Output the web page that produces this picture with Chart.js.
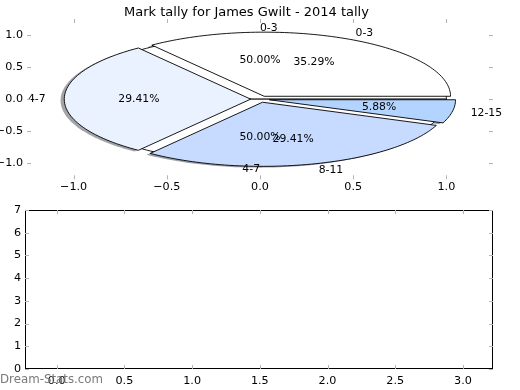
<!DOCTYPE html>
<html>
<head>
<meta charset="utf-8">
<script src="https://cdn.jsdelivr.net/npm/chart.js@4.4.1/dist/chart.umd.min.js"></script>
<style>
  html, body { margin: 0; padding: 0; background: #fff; }
  #wrap { position: relative; width: 520px; height: 390px; overflow: hidden; }
  #pieChart { position: absolute; left: 0; top: 0; }
  #emptyChart { position: absolute; left: 0; top: 195px; }
  #mark { position: absolute; left: 0; top: 372px; font: 11.8px "DejaVu Sans"; color: #7a7a7a; }
</style>
</head>
<body>
<div id="wrap">
  <canvas id="pieChart" width="520" height="200"></canvas>
  <canvas id="emptyChart" width="520" height="195"></canvas>
  <div id="mark">Dream-Stats.com</div>
</div>
<script>
// the data
const chartTitle = 'Mark tally for James Gwilt - 2014 tally';
const sliceLabels = ['0-3', '4-7', '8-11', '12-15'];
const sliceCounts = [6, 5, 5, 1];
const sliceColors = ['#ffffff', '#eaf2ff', '#c6dbff', '#b3d4ff'];
const sliceExplode = [0.05, 0.05, 0.05, 0.05];
// second (hidden) pie, only its texts show
const halfLabels = ['0-3', '4-7'];
const halfCounts = [1, 1];

// tick labels
const pieXTicks = [-1, -0.5, 0, 0.5, 1];
const pieYTicks = [-1, -0.5, 0, 0.5, 1];
const lowXTicks = [0, 0.5, 1, 1.5, 2, 2.5, 3];
const lowYTicks = [0, 1, 2, 3, 4, 5, 6, 7];

const FONT = 'DejaVu Sans';

function fmt1(v) {
  return (v < 0 ? '\u2212' : '') + Math.abs(v).toFixed(1);
}

// start angle, end angle, mid angle and explode offset of every wedge
function layoutPie(counts, explode) {
  const total = counts.reduce((a, b) => a + b, 0);
  let start = 0;
  return counts.map((c, i) => {
    const end = start + 360 * c / total;
    const mid = (start + end) / 2 * Math.PI / 180;
    const e = explode ? explode[i] : 0;
    const w = { start, end, mid, ox: e * Math.cos(mid), oy: e * Math.sin(mid), pct: 100 * c / total };
    start = end;
    return w;
  });
}

// outline of a wedge in data units (radius 1), turned into pixels by the scales
function wedgePath(ctx, sx, sy, w, dx, dy) {
  const n = Math.max(2, Math.ceil((w.end - w.start) / 1.5));
  ctx.beginPath();
  ctx.moveTo(sx.getPixelForValue(w.ox + dx), sy.getPixelForValue(w.oy + dy));
  for (let i = 0; i <= n; i++) {
    const a = (w.start + (w.end - w.start) * i / n) * Math.PI / 180;
    ctx.lineTo(sx.getPixelForValue(w.ox + dx + Math.cos(a)), sy.getPixelForValue(w.oy + dy + Math.sin(a)));
  }
  ctx.closePath();
}

function shadowColor(hex) {
  const r = parseInt(hex.slice(1, 3), 16), g = parseInt(hex.slice(3, 5), 16), b = parseInt(hex.slice(5, 7), 16);
  return 'rgba(' + Math.round(r * 0.3) + ',' + Math.round(g * 0.3) + ',' + Math.round(b * 0.3) + ',0.5)';
}

const piePlugin = {
  id: 'piePlugin',
  afterDraw(chart) {
    const ctx = chart.ctx, sx = chart.scales.x, sy = chart.scales.y;
    const main = layoutPie(sliceCounts, sliceExplode);
    const half = layoutPie(halfCounts, null);
    ctx.save();
    ctx.lineJoin = 'round';
    // shadows
    main.forEach((w, i) => {
      wedgePath(ctx, sx, sy, w, -0.02, -0.02);
      ctx.fillStyle = shadowColor(sliceColors[i]);
      ctx.fill();
    });
    // hidden pie underneath
    half.forEach(w => {
      wedgePath(ctx, sx, sy, w, 0, 0);
      ctx.fillStyle = '#ffffff';
      ctx.fill();
      ctx.lineWidth = 0.9;
      ctx.strokeStyle = '#000';
      ctx.stroke();
    });
    // wedges
    main.forEach((w, i) => {
      wedgePath(ctx, sx, sy, w, 0, 0);
      ctx.fillStyle = sliceColors[i];
      ctx.fill();
      ctx.lineWidth = 0.9;
      ctx.strokeStyle = '#000';
      ctx.stroke();
    });
    // texts
    ctx.fillStyle = '#000';
    ctx.font = '10.8px "' + FONT + '"';
    ctx.textBaseline = 'middle';
    const texts = (ws, labels) => ws.forEach((w, i) => {
      const lx = w.ox + 1.1 * Math.cos(w.mid), ly = w.oy + 1.1 * Math.sin(w.mid);
      ctx.textAlign = lx > 0 ? 'left' : 'right';
      ctx.fillText(labels[i], sx.getPixelForValue(lx), sy.getPixelForValue(ly));
      ctx.textAlign = 'center';
      ctx.fillText(w.pct.toFixed(2) + '%', sx.getPixelForValue(w.ox + 0.6 * Math.cos(w.mid)), sy.getPixelForValue(w.oy + 0.6 * Math.sin(w.mid)));
    });
    texts(half, halfLabels);
    texts(main, sliceLabels);
    ctx.restore();
  }
};

// matplotlib style ticks pointing inward, on all four sides
const inTicksPlugin = {
  id: 'inTicks',
  afterDraw(chart, args, opts) {
    const ctx = chart.ctx, a = chart.chartArea, sx = chart.scales.x, sy = chart.scales.y;
    ctx.save();
    if (opts.frame) {
      ctx.strokeStyle = '#000';
      ctx.lineWidth = 1;
      ctx.strokeRect(a.left + 0.5, a.top + 0.5, a.right - a.left - 1, a.bottom - a.top - 1);
    }
    ctx.strokeStyle = '#b4b4b4';
    ctx.lineWidth = 1;
    ctx.beginPath();
    sx.ticks.forEach(t => {
      const px = Math.round(sx.getPixelForValue(t.value)) + 0.5;
      ctx.moveTo(px, a.bottom); ctx.lineTo(px, a.bottom - 4);
      ctx.moveTo(px, a.top); ctx.lineTo(px, a.top + 4);
    });
    sy.ticks.forEach(t => {
      const py = Math.round(sy.getPixelForValue(t.value)) + 0.5;
      ctx.moveTo(a.left, py); ctx.lineTo(a.left + 4, py);
      ctx.moveTo(a.right, py); ctx.lineTo(a.right - 4, py);
    });
    ctx.stroke();
    ctx.restore();
  }
};

function axis(min, max, values, fmt, size, pad) {
  return {
    type: 'linear', min: min, max: max,
    afterBuildTicks: s => { s.ticks = values.map(v => ({ value: v })); },
    afterFit: s => { if (s.isHorizontal()) s.height = size; else s.width = size; },
    grid: { display: false, drawTicks: false },
    border: { display: false },
    ticks: { padding: pad, color: '#000', autoSkip: false, maxRotation: 0,
      font: { family: FONT, size: 11.2 }, callback: v => fmt(v) }
  };
}

new Chart(document.getElementById('pieChart'), {
  type: 'scatter',
  data: { datasets: [] },
  options: {
    responsive: false, animation: false, events: [],
    layout: { padding: { left: 0, right: 27, top: 0, bottom: 0 } },
    plugins: {
      legend: { display: false }, tooltip: { enabled: false },
      title: { display: true, text: chartTitle, color: '#000',
        font: { family: FONT, size: 13, weight: 'normal', lineHeight: 1 }, padding: { top: 5.9, bottom: 0.1 } },
      inTicks: { frame: false }
    },
    scales: {
      x: axis(-1.25, 1.25, pieXTicks, fmt1, 20.7, 1),
      y: axis(-1.25, 1.25, pieYTicks, fmt1, 27, 4)
    }
  },
  plugins: [piePlugin, inTicksPlugin]
});

new Chart(document.getElementById('emptyChart'), {
  type: 'scatter',
  data: { datasets: [] },
  options: {
    responsive: false, animation: false, events: [],
    layout: { padding: { left: 0, right: 27, top: 15, bottom: 0 } },
    plugins: { legend: { display: false }, tooltip: { enabled: false }, inTicks: { frame: true } },
    scales: {
      x: axis(-0.234, 3.222, lowXTicks, fmt1, 21, 5),
      y: axis(0, 7, lowYTicks, v => String(v), 25, 4)
    }
  },
  plugins: [inTicksPlugin]
});
</script>
</body>
</html>
